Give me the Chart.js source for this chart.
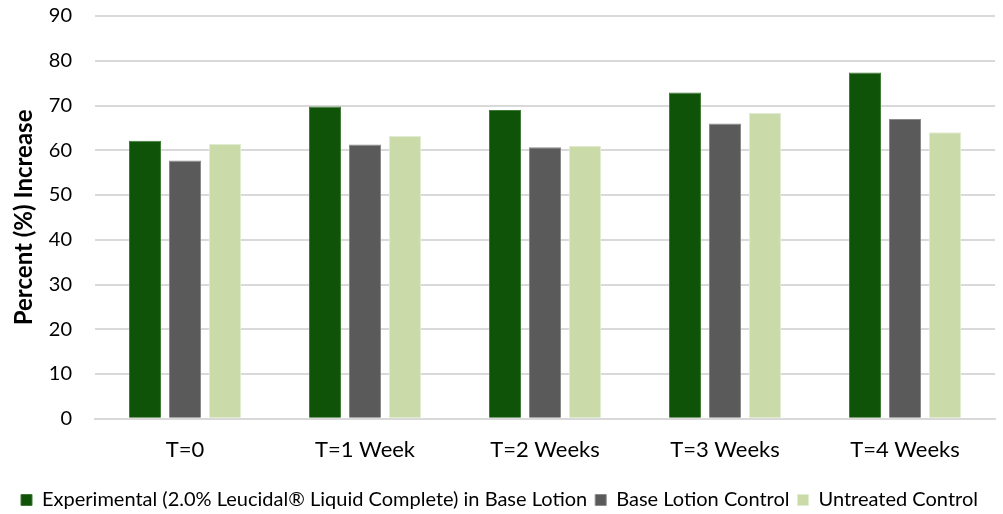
<!DOCTYPE html>
<html>
<head>
<meta charset="utf-8">
<script src="https://cdn.jsdelivr.net/npm/chart.js@4"></script>
<style>
  html, body { margin: 0; padding: 0; background: #fff; }
  #wrap { width: 1003px; height: 514px; }
</style>
</head>
<body>
<div id="wrap"><canvas id="chart"></canvas></div>
<script>
const categories = ['T=0', 'T=1 Week', 'T=2 Weeks', 'T=3 Weeks', 'T=4 Weeks'];
const experimental = [62.1, 69.8, 69.0, 72.9, 77.4];
const baseLotion   = [57.7, 61.3, 60.7, 66.0, 67.0];
const untreated    = [61.4, 63.2, 61.0, 68.3, 64.0];
const seriesNames = [
  'Experimental (2.0% Leucidal\u00AE Liquid Complete) in Base Lotion',
  'Base Lotion Control',
  'Untreated Control'
];
const yTicks = [0, 10, 20, 30, 40, 50, 60, 70, 80, 90];

const FONT = "Lato, 'Noto Sans', sans-serif";

const colors = ['#0e5307', '#5a5a5a', '#cadba9'];
const borders = ['#3f7a36', '#8a8a8a', '#e2ecd2'];

const ds = (label, data, i) => ({
  label, data,
  backgroundColor: colors[i],
  borderColor: borders[i],
  borderWidth: 1,
  categoryPercentage: 0.667,
  barPercentage: 0.8
});

new Chart(document.getElementById('chart'), {
  type: 'bar',
  data: {
    labels: categories,
    datasets: [
      ds(seriesNames[0], experimental, 0),
      ds(seriesNames[1], baseLotion, 1),
      ds(seriesNames[2], untreated, 2)
    ]
  },
  options: {
    responsive: true,
    maintainAspectRatio: false,
    animation: false,
    layout: { padding: { top: 0, right: 8, left: 4, bottom: -6 } },
    plugins: {
      tooltip: { enabled: false },
      legend: {
        position: 'bottom',
        labels: {
          color: '#000',
          font: { family: FONT, size: 20 },
          boxWidth: 11,
          boxHeight: 11,
          padding: 8
        }
      }
    },
    scales: {
      x: {
        grid: { display: false, drawTicks: false },
        border: { color: '#d9d9d9', width: 2 },
        ticks: { color: '#000', font: { family: FONT, size: 22, lineHeight: 1.6 }, padding: 14 }
      },
      y: {
        min: 0,
        max: 90,
        afterBuildTicks: axis => { axis.ticks = yTicks.map(v => ({ value: v })); },
        // transparent tick marks give the label-to-grid gap without padding the top
        grid: { color: '#d9d9d9', lineWidth: 2, drawTicks: true, tickLength: 19, tickColor: 'rgba(0,0,0,0)' },
        border: { display: false },
        ticks: { color: '#000', font: { family: FONT, size: 20 }, padding: 4 },
        title: {
          display: true,
          text: 'Percent (%) Increase',
          color: '#000',
          font: { family: FONT, size: 24, weight: 'bold' },
          padding: { top: 6, bottom: 6 }
        }
      }
    }
  }
});
</script>
</body>
</html>
